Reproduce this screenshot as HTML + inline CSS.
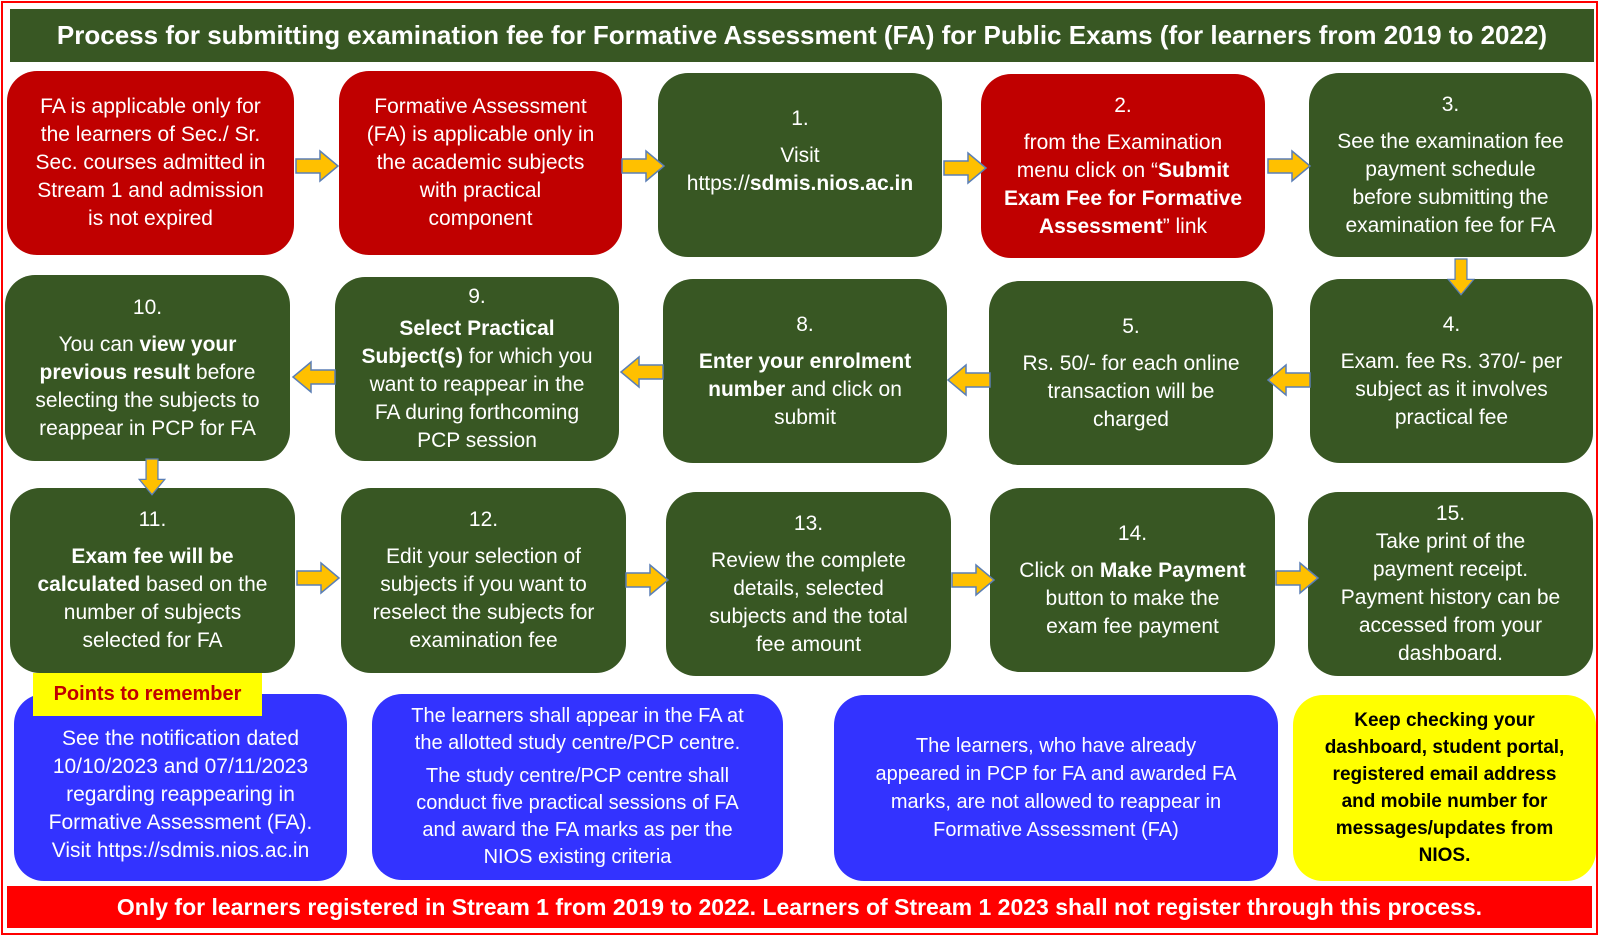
<!DOCTYPE html>
<html><head><meta charset="utf-8"><style>
*{margin:0;padding:0;box-sizing:border-box}
body{width:1600px;height:937px;background:#fff;position:relative;overflow:hidden;font-family:"Liberation Sans",sans-serif}
.frame{position:absolute;left:1px;top:1px;width:1597px;height:934px;border:2px solid #f00}
.b{position:absolute;border-radius:30px;display:flex;align-items:center;justify-content:center;text-align:center;color:#fff;font-size:21px;line-height:28px;white-space:nowrap}
.b>div{display:block}
.n{display:block;margin-bottom:9px}
.g{background:#385723}.r{background:#c00000}.u{background:#3333ff}.y{background:#ffff00;color:#000;font-weight:bold;font-size:19px;line-height:27px}
svg.a{position:absolute}
</style></head><body>
<div class="frame"></div>
<div style="position:absolute;left:10px;top:9px;width:1584px;height:53px;background:#385723;color:#fff;font-weight:bold;font-size:26px;display:flex;align-items:center;justify-content:center;white-space:nowrap"><div>Process for submitting examination fee for Formative Assessment (FA) for Public Exams (for learners from 2019 to 2022)</div></div>

<div class="b r" style="left:7px;top:71px;width:287px;height:184px"><div>FA is applicable only for<br>the learners of Sec./ Sr.<br>Sec. courses admitted in<br>Stream 1 and admission<br>is not expired</div></div>
<div class="b r" style="left:339px;top:71px;width:283px;height:184px"><div>Formative Assessment<br>(FA) is applicable only in<br>the academic subjects<br>with practical<br>component</div></div>
<div class="b g" style="left:658px;top:73px;width:284px;height:184px"><div><span class="n">1.</span>Visit<br>https://<b>sdmis.nios.ac.in</b><br>&nbsp;</div></div>
<div class="b r" style="left:981px;top:74px;width:284px;height:184px"><div><span class="n">2.</span>from the Examination<br>menu click on “<b>Submit<br>Exam Fee for Formative<br>Assessment</b>” link</div></div>
<div class="b g" style="left:1309px;top:73px;width:283px;height:184px"><div><span class="n">3.</span>See the examination fee<br>payment schedule<br>before submitting the<br>examination fee for FA</div></div>

<div class="b g" style="left:5px;top:275px;width:285px;height:186px"><div><span class="n">10.</span>You can <b>view your<br>previous result</b> before<br>selecting the subjects to<br>reappear in PCP for FA</div></div>
<div class="b g" style="left:335px;top:277px;width:284px;height:184px"><div><span class="n" style="margin-bottom:4px">9.</span><b>Select Practical<br>Subject(s)</b> for which you<br>want to reappear in the<br>FA during forthcoming<br>PCP session</div></div>
<div class="b g" style="left:663px;top:279px;width:284px;height:184px"><div><span class="n">8.</span><b>Enter your enrolment<br>number</b> and click on<br>submit</div></div>
<div class="b g" style="left:989px;top:281px;width:284px;height:184px"><div><span class="n">5.</span>Rs. 50/- for each online<br>transaction will be<br>charged</div></div>
<div class="b g" style="left:1310px;top:279px;width:283px;height:184px"><div><span class="n">4.</span>Exam. fee Rs. 370/- per<br>subject as it involves<br>practical fee</div></div>

<div class="b g" style="left:10px;top:488px;width:285px;height:185px"><div><span class="n">11.</span><b>Exam fee will be<br>calculated</b> based on the<br>number of subjects<br>selected for FA</div></div>
<div class="b g" style="left:341px;top:488px;width:285px;height:185px"><div><span class="n">12.</span>Edit your selection of<br>subjects if you want to<br>reselect the subjects for<br>examination fee</div></div>
<div class="b g" style="left:666px;top:492px;width:285px;height:184px"><div><span class="n">13.</span>Review the complete<br>details, selected<br>subjects and the total<br>fee amount</div></div>
<div class="b g" style="left:990px;top:488px;width:285px;height:184px"><div><span class="n">14.</span>Click on <b>Make Payment</b><br>button to make the<br>exam fee payment</div></div>
<div class="b g" style="left:1308px;top:492px;width:285px;height:184px"><div><span class="n" style="margin-bottom:0">15.</span>Take print of the<br>payment receipt.<br>Payment history can be<br>accessed from your<br>dashboard.</div></div>

<div class="b u" style="left:14px;top:694px;width:333px;height:187px;padding-top:14px"><div>See the notification dated<br>10/10/2023 and 07/11/2023<br>regarding reappearing in<br>Formative Assessment (FA).<br>Visit https://sdmis.nios.ac.in</div></div>
<div class="b u" style="left:372px;top:694px;width:411px;height:186px;line-height:27px;font-size:20px"><div>The learners shall appear in the FA at<br>the allotted study centre/PCP centre.<br><span style="display:block;height:6px"></span>The study centre/PCP centre shall<br>conduct five practical sessions of FA<br>and award the FA marks as per the<br>NIOS existing criteria</div></div>
<div class="b u" style="left:834px;top:695px;width:444px;height:186px;font-size:20px"><div>The learners, who have already<br>appeared in PCP for FA and awarded FA<br>marks, are not allowed to reappear in<br>Formative Assessment (FA)</div></div>
<div class="b y" style="left:1293px;top:695px;width:303px;height:186px"><div>Keep checking your<br>dashboard, student portal,<br>registered email address<br>and mobile number for<br>messages/updates from<br>NIOS.</div></div>
<div style="position:absolute;left:33px;top:673px;width:229px;height:43px;background:#ffff00;color:#c00000;font-weight:bold;font-size:20px;display:flex;align-items:center;justify-content:center"><div>Points to remember</div></div>

<div style="position:absolute;left:7px;top:886px;width:1585px;height:42px;background:#ff0000;color:#fff;font-weight:bold;font-size:23px;display:flex;align-items:center;justify-content:center;white-space:nowrap"><div>Only for learners registered in Stream 1 from 2019 to 2022. Learners of Stream 1 2023 shall not register through this process.</div></div>

<svg class="a" width="1600" height="937" style="left:0;top:0" viewBox="0 0 1600 937">
<defs><path id="ar" d="M0,-7 L24,-7 L24,-15 L42,0 L24,15 L24,7 L0,7 Z" fill="#ffc000" stroke="#5b7fb5" stroke-width="1.5"/></defs>
<use href="#ar" transform="translate(296,166)"/>
<use href="#ar" transform="translate(622,166)"/>
<use href="#ar" transform="translate(944,168)"/>
<use href="#ar" transform="translate(1268,166)"/>
<use href="#ar" transform="translate(1461,259) rotate(90) scale(0.85)"/>
<use href="#ar" transform="translate(1310,380) rotate(180)"/>
<use href="#ar" transform="translate(990,380) rotate(180)"/>
<use href="#ar" transform="translate(663,372) rotate(180)"/>
<use href="#ar" transform="translate(335,377) rotate(180)"/>
<use href="#ar" transform="translate(152,459) rotate(90) scale(0.85)"/>
<use href="#ar" transform="translate(297,578)"/>
<use href="#ar" transform="translate(626,580)"/>
<use href="#ar" transform="translate(952,580)"/>
<use href="#ar" transform="translate(1276,578)"/>
</svg>
</body></html>
